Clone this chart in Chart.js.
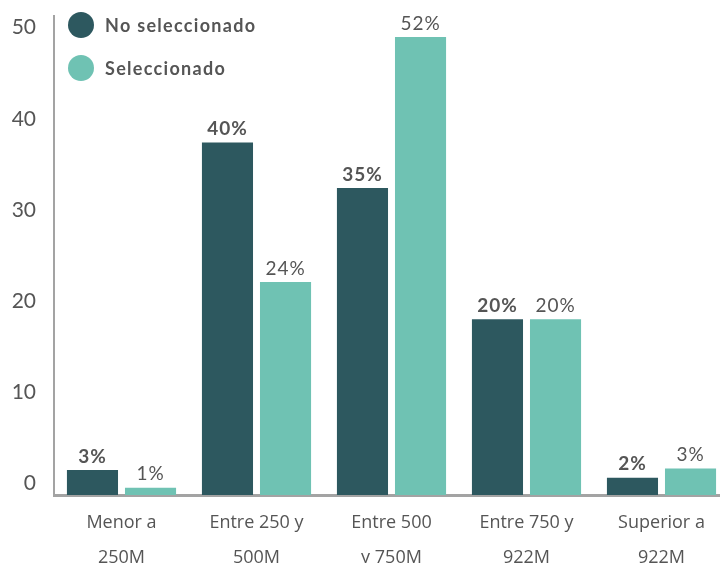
<!DOCTYPE html>
<html>
<head>
<meta charset="utf-8">
<script src="https://cdn.jsdelivr.net/npm/chart.js@4.4.1/dist/chart.umd.min.js"></script>
<style>
  html, body { margin: 0; padding: 0; background: #fff; overflow: hidden; }
  #wrap { position: relative; width: 730px; height: 563px; }
  #legend { position: absolute; left: 68px; top: 12px; font-family: Lato, "Open Sans", sans-serif; }
  .item { display: flex; align-items: center; height: 26px; margin-bottom: 17px;
          font-size: 18px; font-weight: bold; color: #555; letter-spacing: 1.3px; }
  .dot { width: 26px; height: 26px; border-radius: 50%; margin-right: 11px; }
</style>
</head>
<body>
<div id="wrap">
  <canvas id="chart" width="730" height="563"></canvas>
  <div id="legend"></div>
</div>
<script>
const categories = [
  ["Menor a", "250M"],
  ["Entre 250 y", "500M"],
  ["Entre 500", "y 750M"],
  ["Entre 750 y", "922M"],
  ["Superior a", "922M"],
];
const seriesNames = ["No seleccionado", "Seleccionado"];
const noSeleccionado = [2.75, 38.7, 33.7, 19.3, 1.9];
const seleccionado = [0.8, 23.4, 50.3, 19.3, 2.9];
const noSeleccionadoLabels = ["3%", "40%", "35%", "20%", "2%"];
const seleccionadoLabels = ["1%", "24%", "52%", "20%", "3%"];
const yTicks = [0, 10, 20, 30, 40, 50];
const colors = ["#2d585f", "#6fc2b3"];

const FONT = "Lato, 'Open Sans', sans-serif";

// legend as plain html, top-left inside the plot
const legendEl = document.getElementById("legend");
seriesNames.forEach((name, i) => {
  const row = document.createElement("div");
  row.className = "item";
  row.innerHTML = '<span class="dot" style="background:' + colors[i] + '"></span>' + name;
  legendEl.appendChild(row);
});

// percent labels above each bar
const barLabels = {
  id: "barLabels",
  afterDatasetsDraw(chart) {
    const ctx = chart.ctx;
    const texts = [noSeleccionadoLabels, seleccionadoLabels];
    ctx.save();
    ctx.fillStyle = "#555";
    ctx.textAlign = "center";
    ctx.textBaseline = "bottom";
    ctx.letterSpacing = "1px";
    chart.data.datasets.forEach((ds, di) => {
      ctx.font = (di === 0 ? "bold " : "") + "19px " + FONT;
      chart.getDatasetMeta(di).data.forEach((bar, i) => {
        ctx.fillText(texts[di][i], bar.x, bar.y - 4);
      });
    });
    ctx.restore();
  },
};

new Chart(document.getElementById("chart"), {
  type: "bar",
  data: {
    labels: categories,
    datasets: [
      {
        label: seriesNames[0],
        data: noSeleccionado,
        backgroundColor: colors[0],
        categoryPercentage: 0.86,
        barPercentage: 0.88,
      },
      {
        label: seriesNames[1],
        data: seleccionado,
        backgroundColor: colors[1],
        categoryPercentage: 0.86,
        barPercentage: 0.88,
      },
    ],
  },
  options: {
    responsive: false,
    animation: false,
    layout: { padding: { left: 0, top: 16, right: 1, bottom: 0 } },
    plugins: { legend: { display: false }, tooltip: { enabled: false } },
    scales: {
      x: {
        grid: { display: false },
        border: { display: true, color: "#a3a3a3", width: 3 },
        ticks: {
          color: "#555",
          font: { family: "'Open Sans', Lato, sans-serif", size: 18, lineHeight: 1.95 },
          padding: 2,
          maxRotation: 0,
          autoSkip: false,
        },
        afterFit(scale) { scale.height = 68; },
      },
      y: {
        min: 0,
        max: 52.6,
        grid: { display: false },
        border: { display: true, color: "#a3a3a3", width: 2 },
        ticks: {
          stepSize: 10,
          color: "#555",
          font: { family: FONT, size: 21 },
          padding: 10,
          labelOffset: -12,
        },
        afterBuildTicks(scale) {
          scale.ticks = yTicks.map((v) => ({ value: v }));
        },
        afterFit(scale) {
          scale.width = 54;
          scale.paddingTop = 0;
          scale.paddingBottom = 0;
        },
      },
    },
  },
  plugins: [barLabels],
});
</script>
</body>
</html>
